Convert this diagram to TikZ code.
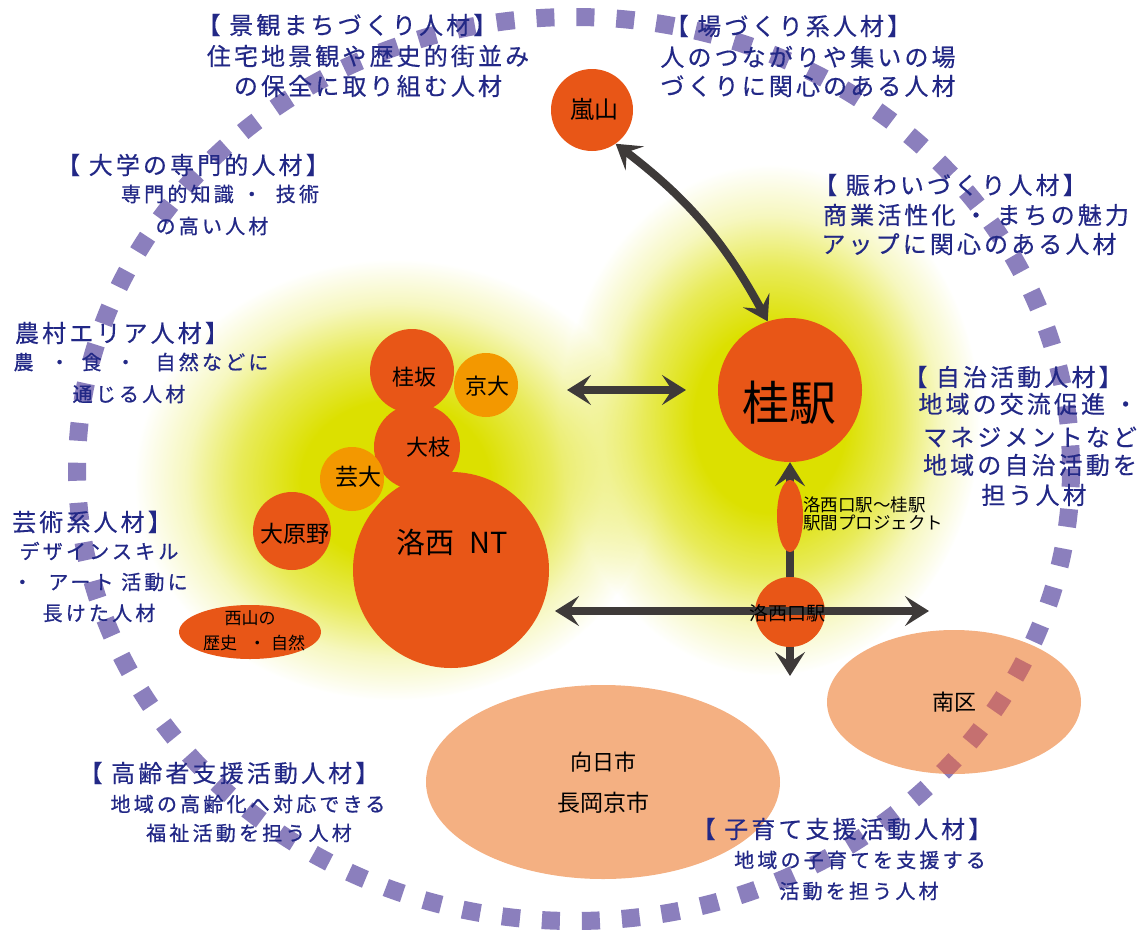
\documentclass[tikz,border=0pt]{standalone}
\usepackage{fontspec}
\setmainfont{Noto Sans CJK JP}
\newfontfamily\jpsp[LetterSpace=13,FakeBold=0.4]{Noto Sans CJK JP}
\newfontfamily\jpsq[LetterSpace=16,FakeBold=0.8]{Noto Sans CJK JP}
\usetikzlibrary{arrows.meta,fadings,shapes.geometric}
\definecolor{glowy}{RGB}{220,224,0}
\definecolor{ringc}{RGB}{139,127,189}
\definecolor{ringred}{RGB}{197,112,112}
\definecolor{orng}{RGB}{232,86,23}
\definecolor{lorng}{RGB}{243,152,0}
\definecolor{peach}{RGB}{244,176,130}
\definecolor{navy}{RGB}{34,40,134}
\definecolor{arrc}{RGB}{62,58,57}
\pgfdeclareradialshading{glowmask}{\pgfpointorigin}{color(0bp)=(pgftransparent!0); color(9bp)=(pgftransparent!0); color(15bp)=(pgftransparent!35); color(20bp)=(pgftransparent!75); color(25bp)=(pgftransparent!100); color(50bp)=(pgftransparent!100)}
\pgfdeclarefading{glowfade}{\pgfuseshading{glowmask}}
\begin{document}
\begin{tikzpicture}[x=1pt,y=-1pt,
  ttl/.style={text=navy,inner sep=0pt,font=\jpsp\fontsize{24}{28}\selectfont},
  sml/.style={text=navy,inner sep=0pt,font=\jpsq\fontsize{20}{24}\selectfont},
  lbl/.style={text=black,inner sep=0pt,font=\fontsize{#1}{#1}\selectfont},
  disc/.style={circle,fill=orng,inner sep=0pt,minimum size=#1},
  ldisc/.style={circle,fill=lorng,inner sep=0pt,minimum size=#1},
  oval/.style={ellipse,inner sep=0pt},
  ring/.style={line width=18pt,dash pattern=on 18pt off 22pt},
  tipA/.tip={Stealth[length=24pt,width=30pt,inset=10pt]},
  conn/.style={draw=arrc,line width=8pt},
  dbl/.style={conn,arrows={tipA-tipA}},
  sgl/.style={conn,arrows={-tipA}},
]
\useasboundingbox (0,0) rectangle (1145,934);
% glows
\fill[glowy,path fading=glowfade] (395,480) ellipse [x radius=260,y radius=220];
\fill[glowy,path fading=glowfade] (770,420) ellipse [x radius=210,y radius=255];
% dashed ring
\draw[ring,draw=ringc] (574,469) ellipse [x radius=497,y radius=452];
% areas
\node[oval,fill=peach,minimum width=254,minimum height=144] (minami) at (954,702) {};
\begin{scope}
  \clip (954,702) ellipse [x radius=127,y radius=72];
  \draw[ring,draw=ringred] (574,469) ellipse [x radius=497,y radius=452];
\end{scope}
\node[oval,fill=peach,minimum width=354,minimum height=194] (muko) at (603,782) {};
% discs
\node[disc=82] (arashiyama) at (592,110) {};
\node[disc=144] (katsura) at (790,390) {};
\node[disc=84] (katsurazaka) at (412,371) {};
\node[disc=86] (ooe) at (417,447) {};
\node[disc=196] (nt) at (451,570) {};
\node[ldisc=64] (kyodai) at (486,385) {};
\node[ldisc=64] (geidai) at (352,479) {};
\node[disc=78] (oharano) at (292,531) {};
\node[oval,fill=orng,minimum width=142,minimum height=54] (nishiyama) at (250,632) {};
\node[disc=70] (rgeki) at (790,612) {};
% connectors
\coordinate (hl) at (567,390);
\coordinate (hr) at (686,390);
\draw[dbl] (hl) -- (hr);
\draw[dbl] (arashiyama.-55) to[bend left=12] (katsura.108);
\draw[sgl] (rgeki) -- (katsura);
\coordinate (dn) at (790,676);
\draw[sgl] (rgeki) -- (dn);
\node[oval,fill=orng,minimum width=26,minimum height=72] (proj) at (790,516) {};
\coordinate (bl) at (555,611);
\coordinate (br) at (929,611);
\draw[dbl] (bl) -- (br);
% black labels
\node[lbl=24] (tArashi) at (594,109) {嵐山};
\node[lbl=47] (tKatsura) at (789,403) {桂駅};
\node[lbl=22] (tZaka) at (414,377) {桂坂};
\node[lbl=22] (tKyo) at (487,386) {京大};
\node[lbl=22] (tOoe) at (428,447) {大枝};
\node[lbl=23] (tGei) at (358,477) {芸大};
\node[lbl=23] (tOha) at (295,534) {大原野};
\node[lbl=29] (tNT) at (452,542) {洛西\hspace{0.5em}NT};
\node[lbl=17] (tNishi1) at (250,618) {西山の};
\node[lbl=17] (tNishi2) at (254,643) {歴史\hspace{0.7em}・\hspace{0.3em}自然};
\node[lbl=19] (tRg) at (787,613) {洛西口駅};
\node[lbl=17.5,anchor=west] (tProj1) at (803,505) {洛西口駅～桂駅};
\node[lbl=17.5,anchor=west] (tProj2) at (803,523) {駅間プロジェクト};
\node[lbl=22] (tMinami) at (954,702) {南区};
\node[lbl=22] (tMuko1) at (603,762) {向日市};
\node[lbl=23] (tMuko2) at (603,803) {長岡京市};
% navy text blocks
\node[ttl] (k1) at (347,25) {【 景観まちづくり人材】};
\node[ttl] (k2) at (368,56) {住宅地景観や歴史的街並み};
\node[ttl] (k3) at (368,86) {の保全に取り組む人材};
\node[ttl] (b1) at (788,26) {【 場づくり系人材】};
\node[ttl] (b2) at (808,57) {人のつながりや集いの場};
\node[ttl] (b3) at (808,86) {づくりに関心のある人材};
\node[ttl] (d1) at (193,165) {【 大学の専門的人材】};
\node[sml] (d2) at (220,194) {専門的知識\hspace{8pt}・\hspace{14pt}技術};
\node[sml] (d3) at (212,226) {の高い人材};
\node[ttl] (n1) at (950,185) {【 賑わいづくり人材】};
\node[ttl] (n2) at (976,215) {商業活性化 ・ まちの魅力};
\node[ttl] (n3) at (969,244) {アップに関心のある人材};
\node[ttl] (f1) at (122,333) {農村エリア人材】};
\node[sml] (f2) at (141,362) {農\hspace{16pt}・\hspace{12pt}食\hspace{14pt}・\hspace{20pt}自然などに};
\node[sml] (f3) at (129,394) {通じる人材};
\node[ttl] (j1) at (1013,377) {【 自治活動人材】};
\node[ttl] (j2) at (1028,404) {地域の交流促進 ・};
\node[ttl] (j3) at (1030,437) {マネジメントなど};
\node[ttl] (j4) at (1030,465) {地域の自治活動を};
\node[ttl] (j5) at (1034,495) {担う人材};
\node[ttl] (g1) at (92,522) {芸術系人材】};
\node[sml] (g2) at (99,551) {デザインスキル};
\node[sml] (g3) at (100,582) {・\hspace{16pt}アート 活動に};
\node[sml] (g4) at (99,613) {長けた人材};
\node[ttl] (e1) at (229,773) {【 高齢者支援活動人材】};
\node[sml] (e2) at (248,804) {地域の高齢化へ対応できる};
\node[sml] (e3) at (249,833) {福祉活動を担う人材};
\node[ttl] (c1) at (842,829) {【 子育て支援活動人材】};
\node[sml] (c2) at (860,860) {地域の子育てを支援する};
\node[sml] (c3) at (859,891) {活動を担う人材};
\end{tikzpicture}
\end{document}
